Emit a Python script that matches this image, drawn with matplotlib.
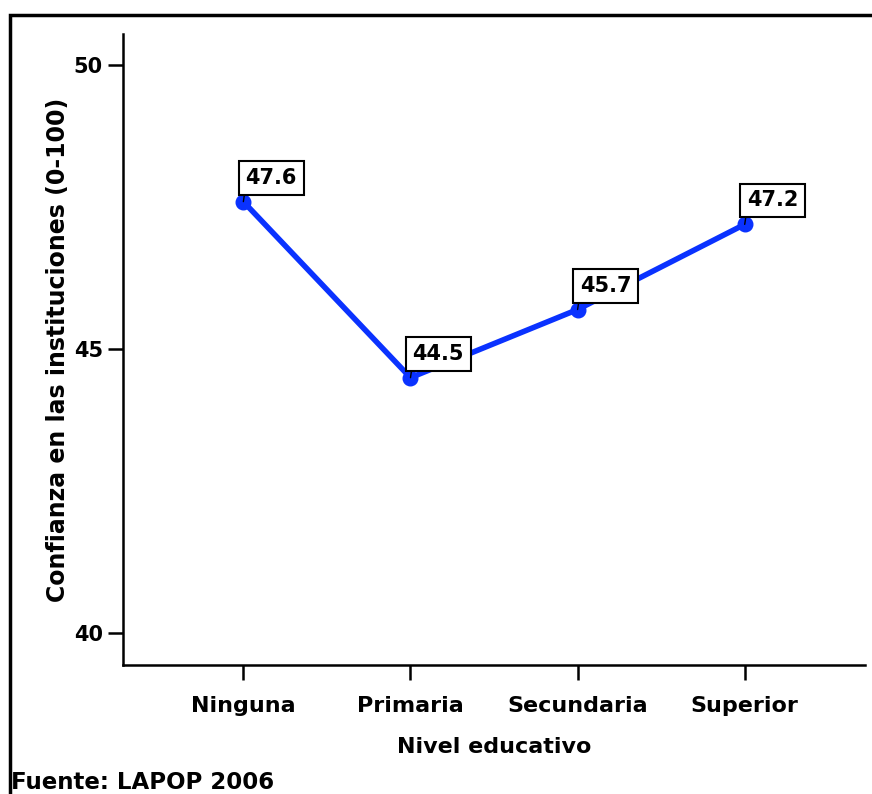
import matplotlib.pyplot as plt
from matplotlib.patches import Rectangle

# Confianza en las instituciones por nivel educativo (LAPOP 2006)
niveles = ["Ninguna", "Primaria", "Secundaria", "Superior"]
confianza = [47.6, 44.5, 45.7, 47.2]
yticks = [40, 45, 50]

plt.rcParams['font.family'] = ['DejaVu Sans']
plt.rcParams['font.weight'] = 'bold'

fig = plt.figure(figsize=(8.72, 7.94), dpi=100)
ax = fig.add_axes([0.1411, 0.1625, 0.8509, 0.7945])

x = list(range(len(niveles)))
ax.plot(x, confianza, color='#0a32ff', linewidth=4, marker='o',
        markersize=10.5, zorder=3)

for xi, v in zip(x, confianza):
    ax.annotate(f"{v:.1f}", (xi, v), xytext=(1.5, 10), textcoords='offset points',
                ha='left', va='bottom', fontsize=15, fontweight='bold',
                bbox=dict(boxstyle='square,pad=0.33', fc='white', ec='black', lw=1.5),
                arrowprops=dict(arrowstyle='-', lw=1, color='black',
                                shrinkA=0, shrinkB=0, relpos=(0, 0)),
                zorder=4)

ax.set_xlim(-0.72, 3.72)
ax.set_ylim(39.44, 50.55)
ax.set_xticks(x)
ax.set_xticklabels(niveles)
ax.set_yticks(yticks)

for side in ['top', 'right']:
    ax.spines[side].set_visible(False)
for side in ['left', 'bottom']:
    ax.spines[side].set_linewidth(1.8)

ax.tick_params(axis='both', direction='out', length=10.5, width=1.8, pad=8)
ax.tick_params(axis='x', labelsize=16, pad=12)
ax.tick_params(axis='y', labelsize=15, pad=4)
for lab in ax.get_xticklabels() + ax.get_yticklabels():
    lab.set_fontweight('bold')

ax.set_xlabel("Nivel educativo", fontsize=16, fontweight='bold', labelpad=15)
ax.set_ylabel("Confianza en las instituciones (0-100)", fontsize=17,
              fontweight='bold', labelpad=3)

fig.text(0.013, 0.0, "Fuente: LAPOP 2006", fontsize=16.5, fontweight='bold',
         ha='left', va='bottom')

# marco exterior
fig.patches.append(Rectangle((10 / 872, -0.1), 1.2, 1.1 - 15 / 794,
                             transform=fig.transFigure, fill=False,
                             ec='black', lw=2.5))

fig.savefig("out.png", dpi=100)
